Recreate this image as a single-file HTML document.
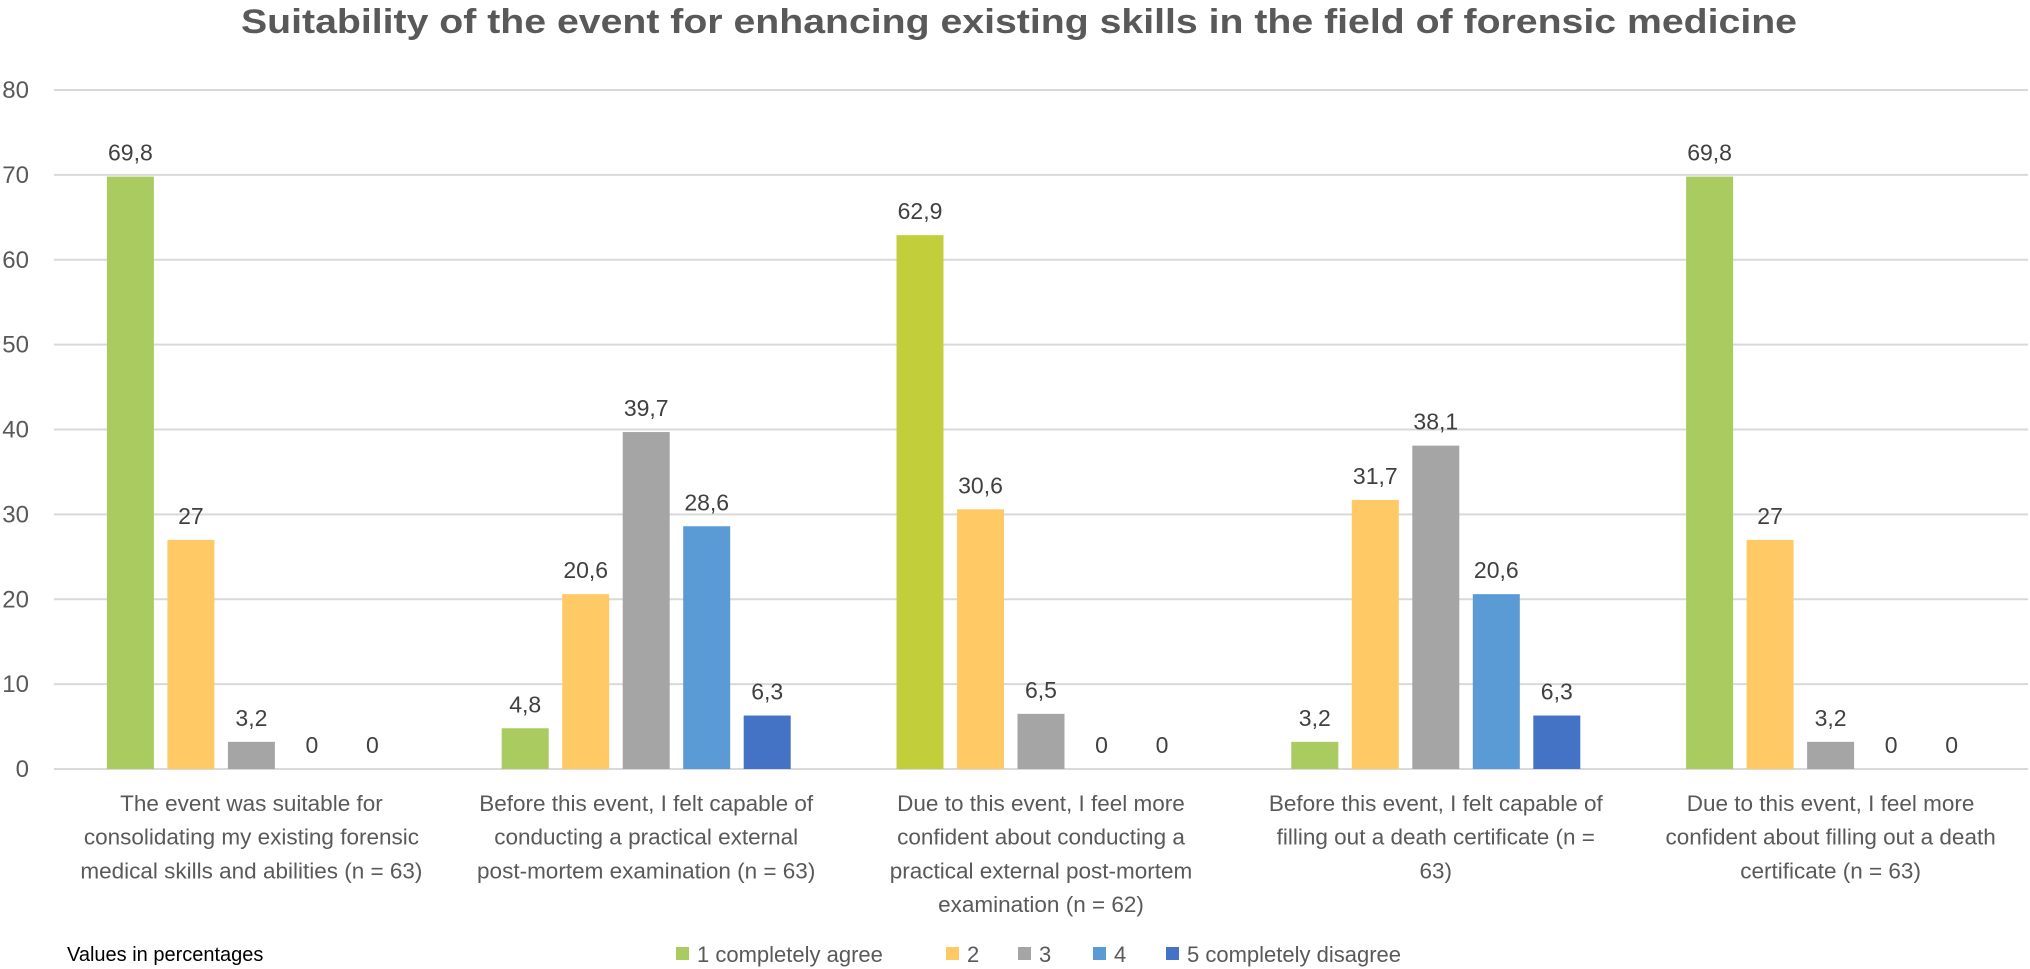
<!DOCTYPE html>
<html><head><meta charset="utf-8"><style>
html,body{margin:0;padding:0;background:#fff;}
svg{display:block;font-family:"Liberation Sans",sans-serif;}
</style></head><body>
<svg id="chart" width="2030" height="969" viewBox="0 0 2030 969">
<text x="1019" y="33" text-anchor="middle" font-size="34" font-weight="bold" fill="#595959" textLength="1556" lengthAdjust="spacingAndGlyphs">Suitability of the event for enhancing existing skills in the field of forensic medicine</text>
<g id="grid"></g><g id="bars"></g><g id="labels"></g>
<text x="67" y="961" font-size="20" fill="#000">Values in percentages</text>
<g id="legend"></g>
</svg>
<script>
const categories = [
 ["The event was suitable for","consolidating my existing forensic","medical skills and abilities (n = 63)"],
 ["Before this event, I felt capable of","conducting a practical external","post-mortem examination (n = 63)"],
 ["Due to this event, I feel more","confident about conducting a","practical external post-mortem","examination (n = 62)"],
 ["Before this event, I felt capable of","filling out a death certificate (n =","63)"],
 ["Due to this event, I feel more","confident about filling out a death","certificate (n = 63)"]
];
const seriesNames = ["1 completely agree","2","3","4","5 completely disagree"];
const s1 = [69.8, 4.8, 62.9, 3.2, 69.8];
const s2 = [27, 20.6, 30.6, 31.7, 27];
const s3 = [3.2, 39.7, 6.5, 38.1, 3.2];
const s4 = [0, 28.6, 0, 20.6, 0];
const s5 = [0, 6.3, 0, 6.3, 0];
const yTicks = [0,10,20,30,40,50,60,70,80];
const series = [s1,s2,s3,s4,s5];
const colors = ["#A9CB5F","#FFCA66","#A5A5A5","#5B9BD5","#4472C4"];
const ns = "http://www.w3.org/2000/svg";
const X0 = 54, X1 = 2028, Y0 = 769, Ytop = 90, YMAX = 80;
const gw = (X1 - X0) / categories.length;
const y = v => Y0 - (v / YMAX) * (Y0 - Ytop);
const gx = i => X0 + gw * (i + 0.5);
const bx = (i, j) => gx(i) + (j - 2) * 60.5;
function mk(tag, attrs, parent){const e=document.createElementNS(ns,tag);for(const k in attrs)e.setAttribute(k,attrs[k]);parent.appendChild(e);return e;}
const grid=document.getElementById('grid'), bars=document.getElementById('bars'), labels=document.getElementById('labels'), legend=document.getElementById('legend');
yTicks.forEach(t=>{
  const l=mk('line',{x1:X0,x2:X1,y1:y(t),y2:y(t),stroke:'#D9D9D9','stroke-width':2},grid);
  
  
  const tx=mk('text',{x:29,y:y(t)+8,'text-anchor':'end','font-size':24,fill:'#595959'},grid);
  tx.textContent=t;
  
  
});
categories.forEach((lines,i)=>{
  series.forEach((s,j)=>{
    const v=s[i];
    let c=colors[j]; if(j===0&&i===2)c="#C3CF3A";
    if(v>0){
      const r=mk('rect',{x:bx(i,j)-23.5,y:y(v),width:47,height:Y0-y(v),fill:c},bars);
      
      
    }
    const t=mk('text',{x:bx(i,j),y:y(v)-16,'text-anchor':'middle','font-size':23,fill:'#404040'},labels);
    t.textContent=String(v).replace('.',',');
    
    
  });
  lines.forEach((ln,k)=>{
    const t=mk('text',{x:gx(i),y:811+k*33.7,'text-anchor':'middle','font-size':22.5,fill:'#595959'},labels);
    t.textContent=ln;
    
    
  });
});
const legX=[676,946,1018,1093,1166];
seriesNames.forEach((n,j)=>{
  const r=mk('rect',{x:legX[j],y:947,width:13,height:13,fill:colors[j]},legend);
  
  
  const t=mk('text',{x:legX[j]+21,y:962,'font-size':22,fill:'#595959'},legend);
  t.textContent=n;
  
  
});
</script>
</body></html>
